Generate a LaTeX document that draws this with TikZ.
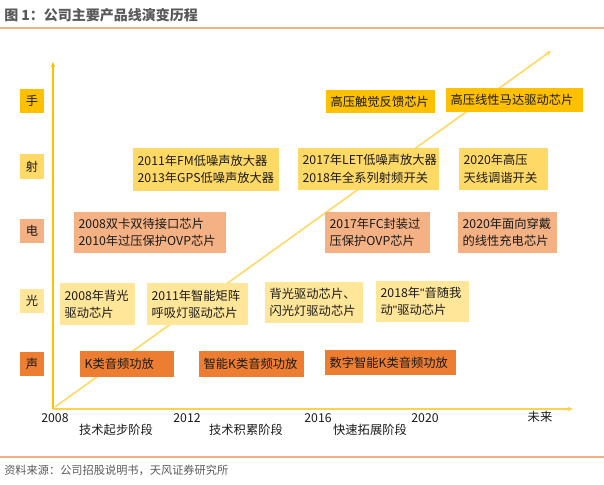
\documentclass[tikz,border=0pt]{standalone}
\usepackage{fontspec}
\setmainfont{Noto Sans CJK SC}
\usetikzlibrary{arrows.meta}
\definecolor{cShou}{HTML}{FFC000}
\definecolor{cShe}{HTML}{FFD966}
\definecolor{cDian}{HTML}{F4B183}
\definecolor{cGuang}{HTML}{FFE699}
\definecolor{cSheng}{HTML}{ED7D31}
\definecolor{rule}{HTML}{F4B183}
\definecolor{axisY}{HTML}{FFC000}
\definecolor{axisX}{HTML}{FFD24D}
\definecolor{diag}{HTML}{FFD966}
\definecolor{txt}{HTML}{1A1A1A}
\definecolor{gtxt}{HTML}{595959}
\newcommand{\sq}{{\fontspec{Liberation Sans}\symbol{34}}}
\begin{document}
\begin{tikzpicture}[x=0.75pt,y=-0.75pt,
  box/.style={rectangle, inner xsep=3.5pt, inner ysep=0pt, align=left,
    font=\fontsize{9.2}{13}\selectfont, text=txt},
  cat/.style={rectangle, minimum width=18pt, minimum height=18pt, inner sep=0pt,
    font=\fontsize{9.2}{9}\selectfont, text=txt},
  lbl/.style={font=\fontsize{9.2}{9}\selectfont, text=txt, inner sep=0pt},
  tip/.style={-{Stealth[length=4pt,width=3.5pt]}}]
\useasboundingbox (0,0) rectangle (604,485);

% title and rules
\node[anchor=west, inner sep=0pt, font=\fontsize{10.5}{11}\selectfont\bfseries, text=gtxt] (title) at (4,15) {图 1：公司主要产品线演变历程};
\coordinate (r1a) at (0,28); \coordinate (r1b) at (604,28);
\draw[rule, line width=1pt] (r1a) -- (r1b);
\coordinate (r2a) at (0,457); \coordinate (r2b) at (604,457);
\draw[rule, line width=0.8pt] (r2a) -- (r2b);
\node[anchor=west, inner sep=0pt, font=\fontsize{8.4}{9}\selectfont, text=gtxt] (src) at (4,470) {资料来源：公司招股说明书，天风证券研究所};

% axes
\coordinate (O) at (53,409);
\coordinate (Ytop) at (53,62);
\coordinate (Xend) at (573,409);
\coordinate (Dstart) at (55,407);
\coordinate (Dend) at (551,51);
\draw[diag, line width=1.2pt, tip] (Dstart) -- (Dend);
\draw[axisY, line width=1.2pt, tip] (O) -- (Ytop);
\draw[axisX, line width=1.2pt, tip] (O) -- (Xend);

% categories
\node[cat, fill=cShou] (cat1) at (32,101) {手};
\node[cat, fill=cShe] (cat2) at (32,166.5) {射};
\node[cat, fill=cDian] (cat3) at (32,231) {电};
\node[cat, fill=cGuang] (cat4) at (32,301) {光};
\node[cat, fill=cSheng] (cat5) at (32,364) {声};

% 手
\node[box, fill=cShou, minimum height=17.25pt, text width=74.75pt] (hA) at (380.5,101.5) {高压触觉反馈芯片};
\node[box, fill=cShou, minimum height=18pt, text width=95.75pt] (hB) at (514.5,100) {高压线性马达驱动芯片};
% 射
\node[box, fill=cShe, minimum height=32.25pt, text width=102.5pt] (sA) at (206,169.5) {2011年FM低噪声放大器\\2013年GPS低噪声放大器};
\node[box, fill=cShe, minimum height=31.5pt, text width=98.75pt] (sB) at (368.5,169) {2017年LET低噪声放大器\\2018年全系列射频开关};
\node[box, fill=cShe, minimum height=31.5pt, text width=59.75pt] (sC) at (503.5,169) {2020年高压\\天线调谐开关};
% 电
\node[box, fill=cDian, minimum height=30.75pt, text width=107pt] (eA) at (150,232.5) {2008双卡双待接口芯片\\2010年过压保护OVP芯片};
\node[box, fill=cDian, minimum height=30.75pt, text width=71.75pt] (eB) at (377.5,232.5) {2017年FC封装过\\压保护OVP芯片};
\node[box, fill=cDian, minimum height=30.75pt, text width=67.25pt] (eC) at (507.5,232.5) {2020年面向穿戴\\的线性充电芯片};
% 光
\node[box, fill=cGuang, minimum height=31.5pt, text width=49.25pt] (gA) at (97.5,304) {2008年背光\\驱动芯片};
\node[box, fill=cGuang, minimum height=31.5pt, text width=68.75pt] (gB) at (197.5,304) {2011年智能矩阵\\呼吸灯驱动芯片};
\node[box, fill=cGuang, minimum height=30.75pt, text width=66.5pt] (gC) at (314,302.5) {背光驱动芯片、\\闪光灯驱动芯片};
\node[box, fill=cGuang, minimum height=30.75pt, text width=62.75pt] (gD) at (422.5,301.5) {2018年\sq 音随我\\动\sq 驱动芯片};
% 声
\node[box, fill=cSheng, minimum height=19.5pt, text width=63.5pt] (kA) at (127,364) {K类音频功放};
\node[box, fill=cSheng, minimum height=19.5pt, text width=71.75pt] (kB) at (251.5,364) {智能K类音频功放};
\node[box, fill=cSheng, minimum height=18.75pt, text width=91.25pt] (kC) at (390.5,362.5) {数字智能K类音频功放};

% axis labels
\node[lbl] (y2008) at (55,418) {2008};
\node[lbl] (y2012) at (187,418) {2012};
\node[lbl] (y2016) at (318,418) {2016};
\node[lbl] (y2020) at (425,418) {2020};
\node[lbl] (yfut) at (540,417) {未来};
\node[lbl] (st1) at (116,430) {技术起步阶段};
\node[lbl] (st2) at (246,430) {技术积累阶段};
\node[lbl] (st3) at (370,430) {快速拓展阶段};
\end{tikzpicture}
\end{document}
